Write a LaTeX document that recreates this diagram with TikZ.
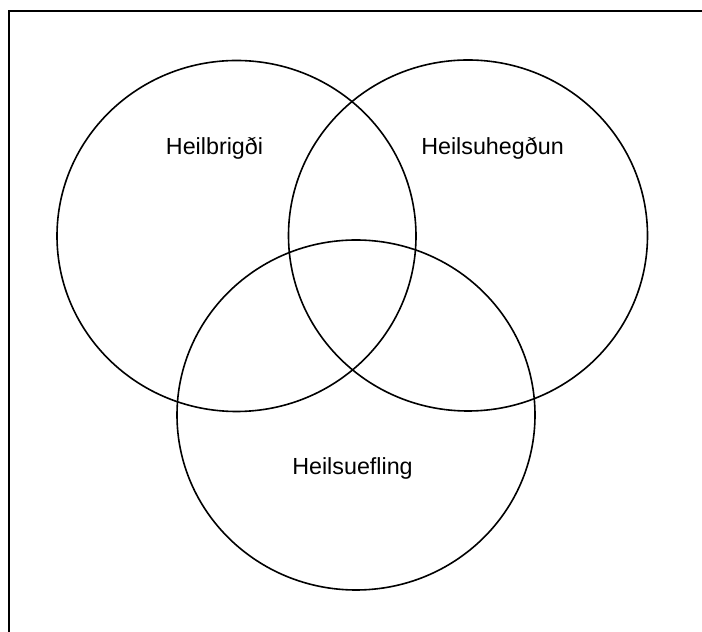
\documentclass[tikz,border=0pt]{standalone}
\usepackage{fontspec}
\setmainfont{Liberation Sans}
\begin{document}
\begin{tikzpicture}[x=1pt,y=1pt,
  venn/.style={draw=black,line width=1.6pt},
  lbl/.style={font=\fontsize{23.3}{28}\selectfont,anchor=base,inner sep=0pt}]
\useasboundingbox (0,0) rectangle (702,632);
\fill[white] (0,0) rectangle (702,632);
\draw[line width=2pt] (8.5,0) -- (8.5,620.5) -- (702,620.5);
\draw[venn] (236.5,396) ellipse [x radius=179.5, y radius=175.5];
\draw[venn] (468,396.5) ellipse [x radius=179.5, y radius=175.5];
\draw[venn] (356,217) ellipse [x radius=179, y radius=175];
\node[lbl] (a) at (214.5,477) {Heilbrigði};
\node[lbl] (b) at (492.5,477) {Heilsuhegðun};
\node[lbl] (c) at (352.5,157) {Heilsuefling};
\end{tikzpicture}
\end{document}
